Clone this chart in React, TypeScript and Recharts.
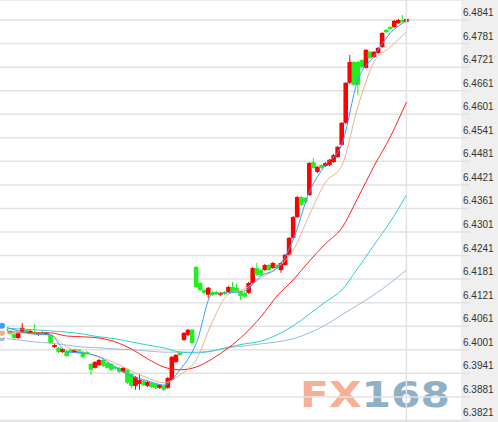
import React from "react";
import {
  ComposedChart,
  Bar,
  Line,
  XAxis,
  YAxis,
  CartesianGrid,
  ReferenceLine,
} from "recharts";

// candles, oldest first
const OPEN = [
  6.4064, 6.4054, 6.4049, 6.4041, 6.4031, 6.4046, 6.4052, 6.4044, 6.4046, 6.4039,
  6.4046, 6.4041, 6.4039, 6.4008, 6.4006, 6.3995, 6.3998, 6.4001, 6.3995, 6.4001,
  6.3995, 6.3995, 6.3965, 6.3955, 6.3962, 6.3975, 6.3967, 6.3965, 6.3957, 6.3955,
  6.3945, 6.395, 6.394, 6.3909, 6.3914, 6.3922, 6.3909, 6.3917, 6.3914, 6.3904,
  6.3909, 6.3904, 6.3924, 6.397, 6.3995, 6.4026, 6.4039, 6.4052, 6.4212, 6.4171,
  6.4153, 6.4141, 6.4148, 6.4148, 6.4141, 6.4148, 6.4148, 6.4161, 6.4159, 6.4148,
  6.4146, 6.4146, 6.4171, 6.4209, 6.4204, 6.4204, 6.4217, 6.4209, 6.4217, 6.4204,
  6.4217, 6.4243, 6.4286, 6.4339, 6.439, 6.4388, 6.4395, 6.4479, 6.4454, 6.4472,
  6.4469, 6.4472, 6.4479, 6.4492, 6.4523, 6.4579, 6.4681, 6.4734, 6.4734, 6.4739,
  6.4719, 6.476, 6.4747, 6.4757, 6.4772, 6.4816, 6.4823, 6.4823, 6.4833, 6.4841,
  6.4836,
];
const CLOSE = [
  6.4057, 6.4049, 6.4041, 6.4031, 6.4044, 6.4057, 6.4046, 6.4049, 6.4041, 6.4044,
  6.4041, 6.4044, 6.4018, 6.4013, 6.3995, 6.4003, 6.3985, 6.3995, 6.4001, 6.3993,
  6.3983, 6.399, 6.395, 6.397, 6.3975, 6.396, 6.3955, 6.395, 6.3953, 6.3945,
  6.3955, 6.3917, 6.3909, 6.3932, 6.3924, 6.3911, 6.3919, 6.3906, 6.3904, 6.3911,
  6.3899, 6.3929, 6.3983, 6.3988, 6.3988, 6.4044, 6.4052, 6.4018, 6.4161, 6.4153,
  6.4146, 6.4159, 6.4141, 6.4143, 6.4146, 6.4143, 6.4161, 6.4148, 6.4148, 6.4138,
  6.4136, 6.4171, 6.4209, 6.4192, 6.4192, 6.4217, 6.4204, 6.4222, 6.4209, 6.4222,
  6.4243, 6.4286, 6.4339, 6.439, 6.437, 6.4377, 6.4477, 6.4464, 6.4467, 6.4464,
  6.4477, 6.4485, 6.4497, 6.4518, 6.4579, 6.4681, 6.4734, 6.4676, 6.4676, 6.4721,
  6.4765, 6.4744, 6.476, 6.477, 6.4808, 6.481, 6.4818, 6.4839, 6.4841, 6.4836,
  6.4844,
];
const HIGH = [
  6.4069, 6.4059, 6.4052, 6.4044, 6.4046, 6.4069, 6.4054, 6.4052, 6.4067, 6.4046,
  6.4049, 6.4046, 6.4041, 6.4016, 6.4008, 6.4006, 6.4001, 6.4003, 6.4003, 6.4003,
  6.3998, 6.3998, 6.3967, 6.3972, 6.3978, 6.3978, 6.397, 6.3967, 6.396, 6.3957,
  6.3957, 6.3953, 6.3942, 6.3934, 6.394, 6.3924, 6.3922, 6.3919, 6.3917, 6.3914,
  6.3911, 6.3932, 6.3985, 6.399, 6.3998, 6.4046, 6.4054, 6.4054, 6.4215, 6.4174,
  6.4156, 6.4161, 6.4151, 6.4151, 6.4148, 6.4151, 6.4164, 6.4174, 6.4169, 6.4151,
  6.4148, 6.4174, 6.4212, 6.4222, 6.4207, 6.422, 6.422, 6.4225, 6.422, 6.4225,
  6.4245, 6.4288, 6.4342, 6.4393, 6.4393, 6.439, 6.4479, 6.449, 6.4469, 6.4474,
  6.4479, 6.4487, 6.45, 6.452, 6.4581, 6.4683, 6.4752, 6.4737, 6.4737, 6.4742,
  6.4767, 6.4762, 6.4762, 6.4772, 6.481, 6.4818, 6.4826, 6.4841, 6.4844, 6.4854,
  6.4846,
];
const LOW = [
  6.4052, 6.4044, 6.4039, 6.4029, 6.4029, 6.4044, 6.4044, 6.4041, 6.4039, 6.4036,
  6.4039, 6.4039, 6.4016, 6.4006, 6.3993, 6.3993, 6.3983, 6.3993, 6.3993, 6.399,
  6.398, 6.3988, 6.3937, 6.3953, 6.396, 6.3957, 6.3953, 6.3947, 6.395, 6.3942,
  6.3942, 6.3914, 6.3904, 6.3899, 6.3899, 6.3909, 6.3906, 6.3904, 6.3901, 6.3901,
  6.3896, 6.3901, 6.3922, 6.3967, 6.3985, 6.4023, 6.4036, 6.4016, 6.4159, 6.4151,
  6.4143, 6.4133, 6.4138, 6.4141, 6.4138, 6.4141, 6.4146, 6.4146, 6.4146, 6.4128,
  6.4133, 6.4143, 6.4169, 6.4189, 6.4189, 6.4202, 6.4202, 6.4207, 6.4207, 6.4197,
  6.4215, 6.424, 6.4283, 6.4337, 6.4367, 6.4375, 6.4393, 6.4462, 6.4451, 6.4462,
  6.4467, 6.4469, 6.4477, 6.449, 6.452, 6.4576, 6.4678, 6.4673, 6.465, 6.4719,
  6.4717, 6.4742, 6.4744, 6.4754, 6.477, 6.4808, 6.4816, 6.4821, 6.4831, 6.4833,
  6.4833,
];

// moving averages read at every 4th candle
const MA_AT = [
  0, 4, 8, 12, 16, 20, 24, 28, 32, 36, 40, 44, 48, 52, 56, 60, 64, 68, 72, 76, 80,
  84, 88, 92, 96, 100,
];
const MA5 = [
  6.4062, 6.4049, 6.4041, 6.4039, 6.3995, 6.3993, 6.3983, 6.3957, 6.3934, 6.3922,
  6.3911, 6.395, 6.4016, 6.4143, 6.4146, 6.4151, 6.4189, 6.4209, 6.4281, 6.4403,
  6.4472, 6.4523, 6.4688, 6.4749, 6.4808, 6.4838,
];
const MA10 = [
  6.4044, 6.4044, 6.4041, 6.4039, 6.4008, 6.3995, 6.3983, 6.3967, 6.3947, 6.3929,
  6.3917, 6.3937, 6.3975, 6.4072, 6.4143, 6.4156, 6.4184, 6.4209, 6.4255, 6.4344,
  6.4428, 6.4469, 6.462, 6.4734, 6.4772, 6.4811,
];
const MA20 = [
  6.4046, 6.4046, 6.4044, 6.4044, 6.4036, 6.4034, 6.4031, 6.4021, 6.4003, 6.3978,
  6.3957, 6.395, 6.3957, 6.3978, 6.4006, 6.4041, 6.4085, 6.4138, 6.4179, 6.4227,
  6.4271, 6.4311, 6.4388, 6.4469, 6.4543, 6.4632,
];
const MA40 = [
  6.4057, 6.4054, 6.4052, 6.4049, 6.4046, 6.4041, 6.4034, 6.4029, 6.4021, 6.4013,
  6.4006, 6.3995, 6.3993, 6.3998, 6.4008, 6.4016, 6.4023, 6.4039, 6.4062, 6.4092,
  6.4123, 6.4153, 6.4209, 6.4268, 6.4327, 6.4395,
];
const MA60 = [
  6.4031, 6.4026, 6.4021, 6.4018, 6.4013, 6.4008, 6.4006, 6.4003, 6.4001, 6.3998,
  6.3995, 6.3995, 6.3995, 6.3998, 6.4006, 6.4011, 6.4016, 6.4021, 6.4029, 6.4044,
  6.4064, 6.409, 6.4115, 6.4141, 6.4171, 6.4204,
];

const PRICE_TICKS = [
  6.3821, 6.3881, 6.3941, 6.4001, 6.4061, 6.4121, 6.4181, 6.4241, 6.4301, 6.4361,
  6.4421, 6.4481, 6.4541, 6.4601, 6.4661, 6.4721, 6.4781, 6.4841,
];

const SLOTS = 114;

const rows = Array.from({ length: SLOTS }, (_, i) => {
  const k = MA_AT.indexOf(i);
  const has = i < OPEN.length;
  return {
    idx: i,
    open: has ? OPEN[i] : null,
    close: has ? CLOSE[i] : null,
    high: has ? HIGH[i] : null,
    low: has ? LOW[i] : null,
    range: has ? [LOW[i], HIGH[i]] : null,
    ma5: k >= 0 ? MA5[k] : null,
    ma10: k >= 0 ? MA10[k] : null,
    ma20: k >= 0 ? MA20[k] : null,
    ma40: k >= 0 ? MA40[k] : null,
    ma60: k >= 0 ? MA60[k] : null,
  };
});

const Candle = (props: any) => {
  const { x, y, width, height, payload } = props;
  if (!payload || payload.open == null || height == null) return null;
  const top = Math.min(y, y + height);
  const h = Math.abs(height);
  const span = payload.high - payload.low || 1;
  const toY = (v: number) => top + ((payload.high - v) / span) * h;
  const up = payload.close >= payload.open;
  const color = up ? "#ff0000" : "#22ee22";
  const yo = toY(payload.open);
  const yc = toY(payload.close);
  const cx = x + width / 2;
  const bw = 4.6;
  return (
    <g>
      <line x1={cx} x2={cx} y1={top} y2={top + h} stroke={color} strokeWidth={1} />
      <rect
        x={cx - bw / 2}
        y={Math.min(yo, yc)}
        width={bw}
        height={Math.max(1.5, Math.abs(yo - yc))}
        fill={color}
      />
    </g>
  );
};

const PriceTick = (props: any) => {
  const { x, y, payload } = props;
  return (
    <g>
      <line x1={x - 1} x2={x + 8} y1={y} y2={y} stroke="#e2e2e2" strokeWidth={1.5} />
      <text
        x={x + 1}
        y={y - 4}
        fill="#333"
        fontSize={10}
        fontFamily="Liberation Sans, Arial, sans-serif"
        textAnchor="start"
      >
        {payload.value.toFixed(4)}
      </text>
    </g>
  );
};

export default function App() {
  return (
    <div
      style={{
        position: "relative",
        width: 498,
        height: 422,
        background: "linear-gradient(to right, #ffffff 461px, #efefef 461px)",
      }}
    >
      <style>{"body{margin:0}"}</style>
      <svg
        width={498}
        height={422}
        style={{ position: "absolute", left: 0, top: 0 }}
      >
        <text
          x={300}
          y={407}
          fontSize={35}
          fontWeight="bold"
          fontFamily="DejaVu Sans, sans-serif"
          textLength={150}
          lengthAdjust="spacingAndGlyphs"
        >
          <tspan fill="#f6b096">FX</tspan>
          <tspan fill="#8fb1c6">168</tspan>
        </text>
      </svg>
      <ComposedChart
        width={498}
        height={422}
        data={rows}
        margin={{ top: 0, right: 0, bottom: 0, left: 0 }}
        barCategoryGap={0}
        barGap={0}
      >
        <CartesianGrid vertical={false} stroke="#e2e2e2" strokeWidth={1.5} />
        <XAxis dataKey="idx" hide />
        <YAxis
          orientation="right"
          width={37}
          domain={[6.3817, 6.4892]}
          ticks={PRICE_TICKS}
          interval={0}
          allowDataOverflow
          axisLine={false}
          tickLine={false}
          tickSize={1}
          tickMargin={0}
          tick={<PriceTick />}
        />
        <ReferenceLine x={100} stroke="#e2e2e2" strokeWidth={1.5} />
        <Bar dataKey="range" shape={<Candle />} isAnimationActive={false} />
        <Line type="monotone" dataKey="ma60" stroke="#9dbdd6" strokeWidth={1} dot={false} connectNulls isAnimationActive={false} />
        <Line type="monotone" dataKey="ma40" stroke="#2fcfcf" strokeWidth={1} dot={false} connectNulls isAnimationActive={false} />
        <Line type="monotone" dataKey="ma20" stroke="#ff2222" strokeWidth={1} dot={false} connectNulls isAnimationActive={false} />
        <Line type="monotone" dataKey="ma10" stroke="#e9b38e" strokeWidth={1} dot={false} connectNulls isAnimationActive={false} />
        <Line type="monotone" dataKey="ma5" stroke="#3b9bff" strokeWidth={1} dot={false} connectNulls isAnimationActive={false} />
      </ComposedChart>
    </div>
  );
}
